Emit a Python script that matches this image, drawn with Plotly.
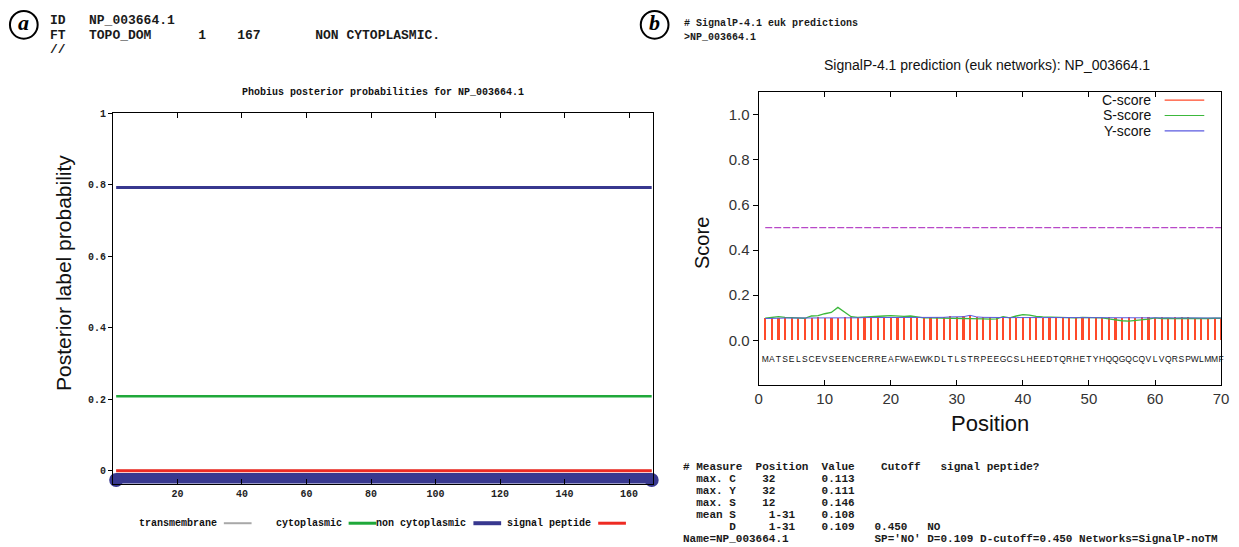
import plotly.graph_objects as go

# ---------------- Panel (a): Phobius posterior probabilities ----------------
phobius_pos = [1, 167]
phobius_transmembrane = [0.0, 0.0]
phobius_cytoplasmic = [0.208, 0.208]
phobius_noncytoplasmic = [0.792, 0.792]
phobius_signal = [0.0, 0.0]
topo_domain = [1, 167]
phobius_xticks = [20, 40, 60, 80, 100, 120, 140, 160]
phobius_yticks = [0, 0.2, 0.4, 0.6, 0.8, 1]
phobius_ytick_labels = ["0", "0.2", "0.4", "0.6", "0.8", "1"]
phobius_legend = ["transmembrane", "cytoplasmic", "non cytoplasmic", "signal peptide"]

# ---------------- Panel (b): SignalP-4.1 ----------------
sequence = "MATSELSCEVSEENCERREAFWAEWKDLTLSTRPEEGCSLHEEDTQRHETYHQQGQCQVLVQRSPWLMMF"
signalp_pos = list(range(1, 71))
c_score = [0.098, 0.100, 0.099, 0.101, 0.100, 0.099, 0.098, 0.100, 0.101, 0.100,
           0.099, 0.100, 0.101, 0.102, 0.100, 0.101, 0.102, 0.101, 0.100, 0.099,
           0.101, 0.103, 0.102, 0.101, 0.100, 0.102, 0.104, 0.103, 0.105, 0.104,
           0.106, 0.113, 0.104, 0.102, 0.101, 0.100, 0.103, 0.101, 0.100, 0.101,
           0.102, 0.101, 0.100, 0.102, 0.101, 0.100, 0.101, 0.100, 0.101, 0.100,
           0.099, 0.100, 0.101, 0.100, 0.099, 0.101, 0.100, 0.102, 0.101, 0.100,
           0.101, 0.100, 0.101, 0.102, 0.101, 0.100, 0.099, 0.100, 0.099, 0.100]
s_score = [0.098, 0.100, 0.105, 0.102, 0.100, 0.100, 0.098, 0.108, 0.110, 0.118,
           0.124, 0.146, 0.125, 0.105, 0.102, 0.103, 0.103, 0.106, 0.108, 0.110,
           0.108, 0.106, 0.108, 0.104, 0.100, 0.100, 0.100, 0.098, 0.099, 0.100,
           0.097, 0.096, 0.097, 0.095, 0.094, 0.095, 0.105, 0.100, 0.108, 0.114,
           0.112, 0.106, 0.104, 0.103, 0.104, 0.101, 0.100, 0.100, 0.102, 0.102,
           0.100, 0.100, 0.095, 0.090, 0.087, 0.085, 0.088, 0.088, 0.094, 0.100,
           0.097, 0.098, 0.096, 0.098, 0.097, 0.099, 0.096, 0.097, 0.098, 0.098]
y_score = [0.097, 0.096, 0.098, 0.099, 0.099, 0.098, 0.097, 0.098, 0.099, 0.099,
           0.099, 0.098, 0.098, 0.099, 0.100, 0.101, 0.101, 0.102, 0.101, 0.100,
           0.101, 0.102, 0.103, 0.103, 0.102, 0.101, 0.103, 0.102, 0.104, 0.103,
           0.105, 0.111, 0.104, 0.102, 0.101, 0.100, 0.102, 0.101, 0.101, 0.102,
           0.102, 0.101, 0.101, 0.102, 0.102, 0.101, 0.101, 0.101, 0.101, 0.101,
           0.100, 0.100, 0.101, 0.100, 0.099, 0.100, 0.100, 0.101, 0.100, 0.100,
           0.101, 0.100, 0.100, 0.101, 0.100, 0.100, 0.099, 0.099, 0.099, 0.099]
cutoff_pos = [1, 70]
cutoff_val = [0.5, 0.5]
signalp_yticks = [0.0, 0.2, 0.4, 0.6, 0.8, 1.0]
signalp_legend = ["C-score", "S-score", "Y-score"]

header_a = ["ID   NP_003664.1",
            "FT   TOPO_DOM      1    167       NON CYTOPLASMIC.",
            "//"]
header_b = ["# SignalP-4.1 euk predictions", ">NP_003664.1"]
summary_b = ["# Measure  Position  Value    Cutoff   signal peptide?",
             "  max. C    32       0.113",
             "  max. Y    32       0.111",
             "  max. S    12       0.146",
             "  mean S     1-31    0.108",
             "       D     1-31    0.109   0.450   NO",
             "Name=NP_003664.1             SP='NO' D=0.109 D-cutoff=0.450 Networks=SignalP-noTM"]

W, H = 1239, 547
def px(x): return x / W
def py(y): return 1 - y / H

MONO = "Liberation Mono"
SANS = "Liberation Sans"
BLUE = "#38388f"
GREEN = "#1fa83a"
RED = "#ee2a22"
GRAY = "#a8a8a8"

fig = go.Figure()

# ---- panel a traces ----
fig.add_trace(go.Scatter(x=topo_domain, y=[-0.026, -0.026], mode="lines+markers",
                         line=dict(color=BLUE, width=14), marker=dict(size=14, color=BLUE),
                         cliponaxis=False, xaxis="x", yaxis="y", hoverinfo="skip"))
fig.add_trace(go.Scatter(x=phobius_pos, y=phobius_transmembrane, mode="lines",
                         line=dict(color=GRAY, width=2), xaxis="x", yaxis="y"))
fig.add_trace(go.Scatter(x=phobius_pos, y=phobius_signal, mode="lines",
                         line=dict(color=RED, width=3), xaxis="x", yaxis="y"))
fig.add_trace(go.Scatter(x=phobius_pos, y=phobius_cytoplasmic, mode="lines",
                         line=dict(color=GREEN, width=2.5), xaxis="x", yaxis="y"))
fig.add_trace(go.Scatter(x=phobius_pos, y=phobius_noncytoplasmic, mode="lines",
                         line=dict(color=BLUE, width=3), xaxis="x", yaxis="y"))

# ---- panel b traces ----
fig.add_trace(go.Bar(x=signalp_pos, y=c_score, width=0.25, marker=dict(color="#ff4a2a", line=dict(width=0)),
                     xaxis="x2", yaxis="y2"))
fig.add_trace(go.Scatter(x=cutoff_pos, y=cutoff_val, mode="lines",
                         line=dict(color="#b848c8", width=1.3, dash="7px,2px"), xaxis="x2", yaxis="y2"))
fig.add_trace(go.Scatter(x=signalp_pos, y=s_score, mode="lines",
                         line=dict(color="#3cb83c", width=1.3), xaxis="x2", yaxis="y2"))
fig.add_trace(go.Scatter(x=signalp_pos, y=y_score, mode="lines",
                         line=dict(color="#5a5ae0", width=1), xaxis="x2", yaxis="y2"))
fig.add_trace(go.Scatter(x=signalp_pos, y=[-0.086] * len(signalp_pos), mode="text",
                         text=list(sequence), textfont=dict(family=SANS, size=8.5, color="#111"),
                         xaxis="x2", yaxis="y2", cliponaxis=False))

axis_common = dict(showline=True, linecolor="black", linewidth=1, showgrid=False, zeroline=False)

fig.update_layout(
    width=W, height=H, autosize=False, showlegend=False,
    margin=dict(l=0, r=0, t=0, b=0),
    paper_bgcolor="white", plot_bgcolor="white",
    bargap=0,
    xaxis=dict(domain=[px(110), px(655)], range=[0, 167.3], tickvals=phobius_xticks,
               ticks="inside", ticklen=5, tickcolor="black", mirror="ticks", anchor="y",
               tickfont=dict(family=MONO, size=10, color="#222", weight="bold"), **axis_common),
    yaxis=dict(domain=[py(483), py(109)], range=[-0.036, 1.0], tickvals=phobius_yticks,
               ticktext=phobius_ytick_labels, ticks="outside", ticklen=4, tickcolor="black",
               mirror=True, anchor="x",
               tickfont=dict(family=MONO, size=10, color="#222", weight="bold"), **axis_common),
    xaxis2=dict(domain=[px(762), px(1229)], range=[0, 70], dtick=10, tick0=0,
                ticks="inside", ticklen=5, tickcolor="black", mirror="ticks", anchor="y2",
                tickfont=dict(family=SANS, size=15, color="#333"), **axis_common),
    yaxis2=dict(domain=[py(384), py(88)], range=[-0.2, 1.1], tickvals=signalp_yticks,
                tickformat=".1f", ticks="outside", ticklen=5, tickcolor="black",
                mirror=True, anchor="x2",
                tickfont=dict(family=SANS, size=15, color="#333"), **axis_common),
)

def txt(x, y, s, size, family, xanchor="left", color="#111", textangle=0, weight="normal"):
    fig.add_annotation(x=px(x), y=py(y), xref="paper", yref="paper",
                       text=s.replace(" ", "\u00a0"), showarrow=False,
                       xanchor=xanchor, yanchor="middle", textangle=textangle,
                       borderpad=0,
                       font=dict(size=size, family=family, color=color, weight=weight))

# circled panel letters
for cx, letter in [(20, "a"), (657, "b")]:
    fig.add_shape(type="circle", xref="paper", yref="paper",
                  x0=px(cx - 14), x1=px(cx + 14), y0=py(34), y1=py(6),
                  line=dict(color="black", width=2))
    txt(cx, 18, "<b><i>" + letter + "</i></b>", 22, "Liberation Serif", xanchor="center", color="black")

# header texts
for i, s in enumerate(header_a):
    txt(45, 16 + 14.5 * i, s, 13, MONO, color="#1a1a1a", weight="bold")
for i, s in enumerate(header_b):
    txt(686, 19 + 13.5 * i, s, 10, MONO, color="#1a1a1a", weight="bold")
for i, s in enumerate(summary_b):
    txt(685, 466 + 12.2 * i, s, 11, MONO, color="#1a1a1a", weight="bold")

# titles
txt(383, 88, "Phobius posterior probabilities for NP_003664.1", 10, MONO, xanchor="center", weight="bold")
txt(993, 61, "SignalP-4.1 prediction (euk networks): NP_003664.1", 14, SANS, xanchor="center")

# axis titles
txt(60, 270, "Posterior label probability", 21, SANS, xanchor="center", color="#111", textangle=-90)
txt(705, 240, "Score", 20, SANS, xanchor="center", color="#111", textangle=-90)
txt(996, 422, "Position", 22, SANS, xanchor="center", color="#111")

# panel a legend
leg_a_colors = [GRAY, GREEN, BLUE, RED]
leg_a_widths = [2, 3, 4, 3]
for i, (name, col, lw) in enumerate(zip(phobius_legend, leg_a_colors, leg_a_widths)):
    right = 216 + 126 * i
    txt(right, 523, name, 10, MONO, xanchor="right", color="#111", weight="bold")
    fig.add_shape(type="line", xref="paper", yref="paper",
                  x0=px(right + 6), x1=px(right + 34), y0=py(523), y1=py(523),
                  line=dict(color=col, width=lw))

# panel b legend
leg_b_colors = ["#ff4a2a", "#3cb83c", "#5a5ae0"]
for i, (name, col) in enumerate(zip(signalp_legend, leg_b_colors)):
    yy = 96 + 15.5 * i
    txt(1159, yy, name, 14, SANS, xanchor="right", color="#111")
    fig.add_shape(type="line", xref="paper", yref="paper",
                  x0=px(1172), x1=px(1212), y0=py(yy), y1=py(yy),
                  line=dict(color=col, width=1.2))

fig.write_html("out.html", config={"displayModeBar": False},
               post_script="document.body.style.margin='0';document.body.style.overflow='hidden';")
